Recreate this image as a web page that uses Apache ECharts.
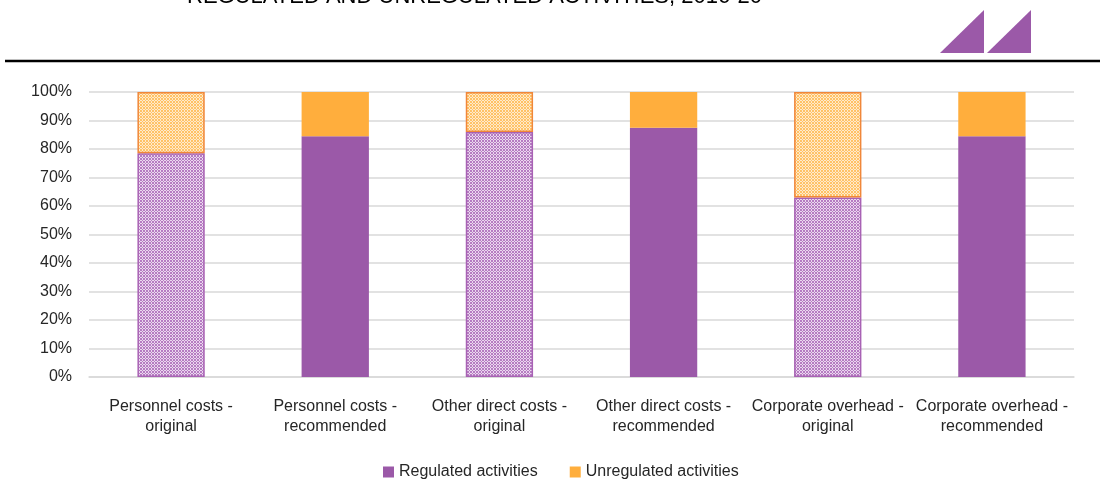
<!DOCTYPE html>
<html>
<head>
<meta charset="utf-8">
<script src="https://cdn.jsdelivr.net/npm/echarts@6/dist/echarts.min.js"></script>
<style>
html,body{margin:0;padding:0;background:#fff;}
#chart{width:1100px;height:481px;}
</style>
</head>
<body>
<div id="chart"></div>
<script>
const categories = [
  'Personnel costs -\noriginal',
  'Personnel costs -\nrecommended',
  'Other direct costs -\noriginal',
  'Other direct costs -\nrecommended',
  'Corporate overhead -\noriginal',
  'Corporate overhead -\nrecommended'
];
const regulated = [78.5, 84.5, 86, 87.5, 63, 84.5];
const unregulated = [21.5, 15.5, 14, 12.5, 37, 15.5];
const isOriginal = [true, false, true, false, true, false];
const yTicks = [0,10,20,30,40,50,60,70,80,90,100];
const titleText = 'REGULATED AND UNREGULATED ACTIVITIES, 2016-20';

const PURPLE = '#9B59A8';
const ORANGE = '#FFAE3D';

function makePattern(dark, light) {
  const c = document.createElement('canvas');
  c.width = 3; c.height = 3;
  const g = c.getContext('2d');
  g.fillStyle = dark; g.fillRect(0,0,3,3);
  g.fillStyle = light;
  g.fillRect(1,0,1,1); g.fillRect(0,1,1,1); g.fillRect(2,1,1,1); g.fillRect(1,2,1,1);
  return c;
}
const purplePat = makePattern('#B67CC2', '#EBD8EF');
const orangePat = makePattern('#FFC266', '#FFEACB');

function buildData(values, pattern, border) {
  return values.map((v, i) => isOriginal[i]
    ? {value: v, itemStyle: {color: {image: pattern, repeat: 'repeat'}, borderColor: border, borderWidth: 1.5}}
    : {value: v});
}

const chart = echarts.init(document.getElementById('chart'), null, {renderer: 'canvas'});
const FONT = '"Liberation Sans", Arial, sans-serif';
chart.setOption({
  animation: false,
  textStyle: {fontFamily: FONT},
  grid: {left: 89, right: 26, top: 92, bottom: 104, containLabel: false},
  xAxis: {
    type: 'category',
    data: categories,
    axisTick: {show: false},
    axisLine: {lineStyle: {color: '#D9D9D9', width: 1.5}},
    axisLabel: {color: '#262626', fontSize: 16, lineHeight: 20, margin: 20, interval: 0, fontFamily: FONT}
  },
  yAxis: {
    type: 'value',
    min: 0, max: 100, interval: 10,
    axisLine: {show: false},
    axisTick: {show: false},
    splitLine: {lineStyle: {color: '#D9D9D9', width: 1.5}},
    axisLabel: {color: '#262626', fontSize: 16, margin: 17, formatter: v => yTicks.includes(v) ? v + '%' : '', fontFamily: FONT}
  },
  legend: {
    left: 378, top: 459, icon: 'rect',
    itemWidth: 11, itemHeight: 11, itemGap: 32,
    textStyle: {fontSize: 16, color: '#262626', fontFamily: FONT},
    data: ['Regulated activities', 'Unregulated activities']
  },
  series: [
    {name: 'Regulated activities', type: 'bar', stack: 'a', barWidth: '41%',
     itemStyle: {color: PURPLE}, data: buildData(regulated, purplePat, '#A862B4')},
    {name: 'Unregulated activities', type: 'bar', stack: 'a', barWidth: '41%',
     itemStyle: {color: ORANGE}, data: buildData(unregulated, orangePat, '#F0873A')}
  ],
  graphic: [
    {type: 'text', left: 187, top: -14, style: {text: titleText, fontSize: 22, fill: '#000', fontFamily: FONT}},
    {type: 'line', shape: {x1: 5, y1: 61, x2: 1100, y2: 61}, style: {stroke: '#000', lineWidth: 2.5}},
    {type: 'polygon', shape: {points: [[940,53],[984,10],[984,53]]}, style: {fill: PURPLE}},
    {type: 'polygon', shape: {points: [[987,53],[1031,10],[1031,53]]}, style: {fill: PURPLE}}
  ]
});
</script>
</body>
</html>
